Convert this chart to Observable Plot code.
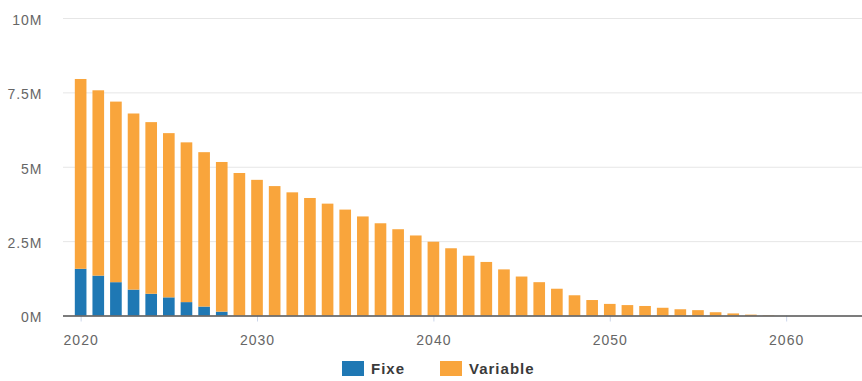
<!DOCTYPE html>
<html>
<head>
<meta charset="utf-8">
<script src="https://cdn.jsdelivr.net/npm/d3@7"></script>
<script src="https://cdn.jsdelivr.net/npm/@observablehq/plot@0.6"></script>
<style>
  body { margin: 0; background: #fff; font-family: "Liberation Sans", Arial, sans-serif; }
  #chart svg { display: block; }
  #chart svg text { letter-spacing: 1px; }
  .legend { display: flex; align-items: center; margin-left: 342px; margin-top: 3px; height: 31px; font-size: 15px; font-weight: bold; color: #3a3a3a; letter-spacing: 1px; }
  .legend .item { display: flex; align-items: center; margin-right: 35px; }
  .legend .sw { width: 22px; height: 15px; margin-right: 7px; }
</style>
</head>
<body>
<div id="chart"></div>
<div class="legend" id="legend"></div>
<script>
const years = d3.range(2020, 2060);
const fixe = [1570000, 1340000, 1120000, 870000, 730000, 610000, 450000, 300000, 130000,
  0, 0, 0, 0, 0, 0, 0, 0, 0, 0, 0, 0, 0, 0, 0, 0, 0, 0, 0, 0, 0, 0, 0, 0, 0, 0, 0, 0, 0, 0, 0];
const variable = [6380000, 6230000, 6070000, 5920000, 5770000, 5520000, 5370000, 5190000, 5030000,
  4790000, 4560000, 4350000, 4140000, 3950000, 3760000, 3560000, 3330000, 3100000, 2900000, 2690000,
  2480000, 2260000, 2010000, 1800000, 1550000, 1310000, 1120000, 900000, 680000, 520000,
  390000, 350000, 320000, 260000, 210000, 180000, 110000, 70000, 30000, 10000];
const series = ["Fixe", "Variable"];
const colors = ["#1f78b4", "#f9a53c"];
const yTicks = [0, 2500000, 5000000, 7500000, 10000000];
const xTicks = [2020, 2030, 2040, 2050, 2060];

const data = [];
years.forEach((y, i) => {
  data.push({year: y, type: "Fixe", value: fixe[i]});
  data.push({year: y, type: "Variable", value: variable[i]});
});

const fmt = d => (d / 1e6) + "M";

const chart = Plot.plot({
  width: 862,
  height: 350,
  marginLeft: 63,
  marginRight: 0,
  marginTop: 18,
  marginBottom: 34.5,
  style: { fontFamily: "Liberation Sans, Arial, sans-serif", fontSize: "14px", color: "#666" },
  x: { domain: [2019, 2064.3], label: null },
  y: { domain: [0, 10000000], label: null },
  color: { domain: series, range: colors },
  marks: [
    Plot.gridY(yTicks, { stroke: "#e6e6e6", strokeOpacity: 1 }),
    Plot.axisY({ ticks: yTicks, tickFormat: fmt, tickSize: 0, tickPadding: 21, fill: "#666", dy: 2, fontSize: 14 }),
    Plot.axisX({ ticks: xTicks, tickFormat: d => String(d), tickSize: 6, tickPadding: 13, stroke: "#ccd6eb", fill: "#666", fontSize: 14 }),
    Plot.rectY(data, Plot.stackY({
      x1: d => d.year - 0.33,
      x2: d => d.year + 0.33,
      y: "value",
      fill: "type",
      order: series
    })),
    Plot.ruleY([0], { stroke: "#555", strokeWidth: 1.5 })
  ]
});
document.getElementById("chart").appendChild(chart);

const legend = document.getElementById("legend");
series.forEach((s, i) => {
  const item = document.createElement("div");
  item.className = "item";
  item.innerHTML = `<span class="sw" style="background:${colors[i]}"></span><span>${s}</span>`;
  legend.appendChild(item);
});
</script>
</body>
</html>
